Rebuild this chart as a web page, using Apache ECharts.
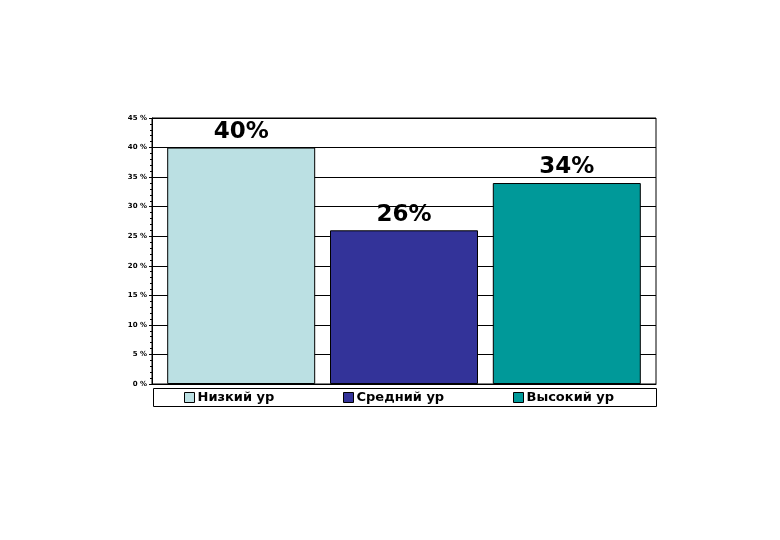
<!DOCTYPE html>
<html><head><meta charset="utf-8">
<script src="https://cdn.jsdelivr.net/npm/echarts@6/dist/echarts.min.js"></script>
<style>html,body{margin:0;padding:0;background:#fff}#c{width:780px;height:540px}</style>
</head><body><div id="c"></div>
<script>
var categories = [''];
var seriesNames = ['Низкий ур', 'Средний ур', 'Высокий ур'];
var seriesValues = [[40], [26], [34]];
var seriesColors = ['#BBE0E3', '#333399', '#009999'];
var yMax = 45, yInterval = 5;

var chart = echarts.init(document.getElementById('c'), null, {renderer: 'canvas'});
var legendLefts = [184, 343, 513];
var series = seriesNames.map(function (n, i) {
  return {
    name: n, type: 'bar', data: seriesValues[i], barWidth: 148, barGap: '10%',
    itemStyle: {color: seriesColors[i], borderColor: '#000', borderWidth: 1},
    label: {show: true, position: 'top', distance: 4, formatter: '{c}%',
      fontFamily: 'DejaVu Sans', fontWeight: 'bold', fontSize: 23, color: '#000'}
  };
});
chart.setOption({
  animation: false,
  backgroundColor: '#fff',
  grid: {left: 152, top: 118, width: 504, height: 266, show: true, borderColor: '#000', borderWidth: 1, backgroundColor: '#fff'},
  xAxis: {type: 'category', data: categories, axisTick: {show: false}, axisLabel: {show: false},
    axisLine: {lineStyle: {color: '#000'}}},
  yAxis: {type: 'value', min: 0, max: yMax, interval: yInterval,
    axisLine: {show: true, lineStyle: {color: '#000'}},
    axisTick: {show: true, length: 3, lineStyle: {color: '#000'}},
    minorTick: {show: true, splitNumber: 5, length: 2, lineStyle: {color: '#000'}},
    splitLine: {lineStyle: {color: '#000', width: 1}},
    axisLabel: {formatter: '{value} %', fontFamily: 'DejaVu Sans', fontWeight: 'bold', fontSize: 7, color: '#000', margin: 5}},
  legend: seriesNames.map(function (n, i) {
    return {data: [n], left: legendLefts[i], top: 391, itemWidth: 10, itemHeight: 10, itemGap: 0, padding: 0,
      icon: 'rect', itemStyle: {borderColor: '#000', borderWidth: 1},
      textStyle: {fontFamily: 'DejaVu Sans', fontWeight: 'bold', fontSize: 13, color: '#000', padding: [0, 0, 0, -2]}};
  }),
  graphic: [{type: 'rect', shape: {x: 153.5, y: 388.5, width: 503, height: 18}, style: {fill: 'none', stroke: '#000', lineWidth: 1}, z: 100}],
  series: series
});
</script></body></html>
